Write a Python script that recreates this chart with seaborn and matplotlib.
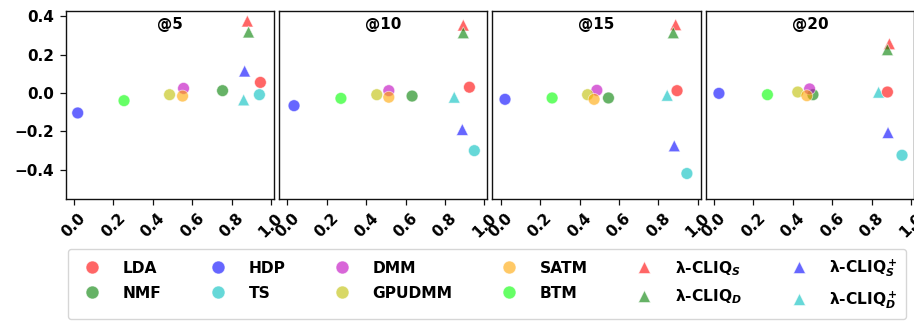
import matplotlib
matplotlib.use("Agg")
import matplotlib.pyplot as plt
import seaborn as sns
import pandas as pd

sns.set_style("white")
plt.rcParams['font.family'] = ['DejaVu Sans']
plt.rcParams['font.weight'] = 'bold'
plt.rcParams['mathtext.fontset'] = 'dejavusans'
for key in ['text.color', 'axes.labelcolor', 'xtick.color', 'ytick.color']:
    plt.rcParams[key] = 'black'

panels = ["@5", "@10", "@15", "@20"]
methods = ["LDA", "NMF", "HDP", "TS", "DMM", "GPUDMM", "SATM", "BTM",
           "λ-CLIQ$_S$", "λ-CLIQ$_D$", "λ-CLIQ$_S^+$", "λ-CLIQ$_D^+$"]
colors = ["#ff0000", "#008000", "#0000ff", "#00bfbf", "#bf00bf", "#bfbf00",
          "#ffa500", "#00ff00", "#ff0000", "#008000", "#0000ff", "#00bfbf"]
markers = ["o"] * 8 + ["^"] * 4

# values per panel, in the order of `methods`
x_at5  = [0.946, 0.754, 0.019, 0.941, 0.556, 0.485, 0.551, 0.254, 0.880, 0.886, 0.866, 0.861]
y_at5  = [0.055, 0.012, -0.104, -0.009, 0.024, -0.009, -0.016, -0.040, 0.374, 0.317, 0.114, -0.036]
x_at10 = [0.924, 0.633, 0.034, 0.949, 0.515, 0.454, 0.515, 0.272, 0.893, 0.893, 0.888, 0.847]
y_at10 = [0.030, -0.016, -0.066, -0.300, 0.012, -0.009, -0.022, -0.028, 0.353, 0.313, -0.190, -0.022]
x_at15 = [0.895, 0.547, 0.022, 0.945, 0.488, 0.441, 0.474, 0.261, 0.888, 0.876, 0.881, 0.845]
y_at15 = [0.012, -0.026, -0.033, -0.419, 0.014, -0.009, -0.033, -0.026, 0.355, 0.313, -0.275, -0.012]
x_at20 = [0.880, 0.502, 0.025, 0.954, 0.485, 0.425, 0.471, 0.271, 0.890, 0.880, 0.883, 0.835]
y_at20 = [0.005, -0.009, -0.002, -0.324, 0.021, 0.005, -0.014, -0.009, 0.256, 0.225, -0.206, 0.004]

xs = [x_at5, x_at10, x_at15, x_at20]
ys = [y_at5, y_at10, y_at15, y_at20]

rows = []
for p, xv, yv in zip(panels, xs, ys):
    # triangles first so circles are drawn on top of them
    order = list(range(8, 12)) + list(range(0, 8))
    for i in order:
        rows.append({"panel": p, "method": methods[i], "x": xv[i], "y": yv[i]})
df = pd.DataFrame(rows)

palette = dict(zip(methods, colors))
mk = dict(zip(methods, markers))

W, H = 914, 322
fig = plt.figure(figsize=(W / 100, H / 100), dpi=100)

ax_left0 = 65.7
ax_w = 208.3
step = 213.35
ax_top = 10.7
ax_bot = 198.7

axes = []
for k, p in enumerate(panels):
    left = ax_left0 + k * step
    ax = fig.add_axes([left / W, 1 - ax_bot / H, ax_w / W, (ax_bot - ax_top) / H])
    axes.append(ax)
    sub = df[df["panel"] == p]
    sns.scatterplot(data=sub, x="x", y="y", hue="method", style="method",
                    hue_order=methods, style_order=methods,
                    palette=palette, markers=mk, s=72, alpha=0.6,
                    edgecolor="white", linewidth=0.6,
                    legend=(k == 0), ax=ax)
    ax.set_xlim(-0.042, 1.015)
    ax.set_ylim(-0.55, 0.428)
    ax.set_xlabel("")
    ax.set_ylabel("")
    ax.set_xticks([0.0, 0.2, 0.4, 0.6, 0.8, 1.0])
    ax.set_xticklabels(["0.0", "0.2", "0.4", "0.6", "0.8", "1.0"],
                       rotation=45, fontsize=11, fontweight="bold")
    ax.tick_params(axis="x", bottom=True, length=4, width=0.9, color="#111111", pad=4.5)
    if k == 0:
        ax.set_yticks([-0.4, -0.2, 0.0, 0.2, 0.4])
        ax.set_yticklabels(["−0.4", "−0.2", "0.0", "0.2", "0.4"],
                           fontsize=11, fontweight="bold")
        ax.tick_params(axis="y", left=True, length=4, width=0.9, color="#111111", pad=4.5)
    else:
        ax.set_yticks([])
    for sp in ax.spines.values():
        sp.set_color("#111111")
        sp.set_linewidth(1.0)
    ax.text(0.5, 0.928, p, transform=ax.transAxes, ha="center", va="center",
            fontsize=11, fontweight="bold")

handles, labels = axes[0].get_legend_handles_labels()
axes[0].get_legend().remove()
for h in handles:
    try:
        h.set_alpha(0.6)
    except Exception:
        pass

leg = fig.legend(handles, labels, loc="upper left",
                 bbox_to_anchor=(68.3 / W, 1 - 249 / H),
                 ncol=6, frameon=True,
                 prop={"weight": "bold", "size": 11.2},
                 handletextpad=0.95, columnspacing=2.65, markerscale=1.1,
                 borderpad=0.55, labelspacing=0.62, borderaxespad=0)
leg.get_frame().set_edgecolor("#cccccc")

fig.savefig("out.png", dpi=100)
